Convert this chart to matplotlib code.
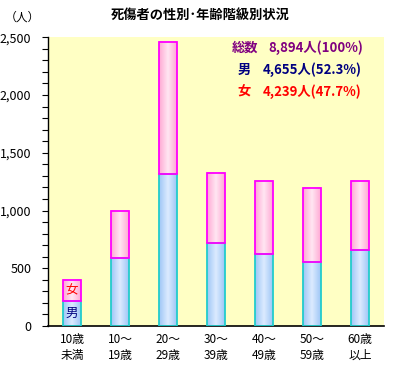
import numpy as np
import matplotlib
matplotlib.use("Agg")
import matplotlib.pyplot as plt
from matplotlib.colors import LinearSegmentedColormap

plt.rcParams['font.family'] = ['Noto Sans CJK JP', 'DejaVu Sans']

# data
categories = ["10歳\n未満", "10～\n19歳", "20～\n29歳", "30～\n39歳", "40～\n49歳", "50～\n59歳", "60歳\n以上"]
male = [214, 585, 1314, 717, 621, 550, 654]
female = [188, 412, 1149, 609, 636, 644, 601]
summary_labels = ["総数", "男", "女"]
summary_values = ["8,894人(100%)", "4,655人(52.3%)", "4,239人(47.7%)"]
summary_colors = ["#800080", "#000080", "#FF0000"]

fig = plt.figure(figsize=(4.04, 3.65), dpi=100)
ax = fig.add_axes([48 / 404, 39 / 365, 336 / 404, 288.7 / 365])
ax.set_facecolor("#FFFFC4")

x = np.arange(len(categories))
w = 0.375

male_cmap = LinearSegmentedColormap.from_list("m", ["#9EC6F6", "#DCEBFF", "#9EC6F6"])
female_cmap = LinearSegmentedColormap.from_list("f", ["#FFA8D4", "#FFE6F2", "#FFA8D4"])
grad = np.linspace(0, 1, 64).reshape(1, -1)

for i in range(len(categories)):
    m = male[i]
    f = female[i]
    ax.imshow(grad, cmap=male_cmap, aspect="auto", extent=(x[i] - w / 2, x[i] + w / 2, 0, m), zorder=2)
    ax.imshow(grad, cmap=female_cmap, aspect="auto", extent=(x[i] - w / 2, x[i] + w / 2, m, m + f), zorder=2)

ax.bar(x, male, w, fill=False, edgecolor="#22CCCC", linewidth=1.3, zorder=3)
ax.bar(x, female, w, bottom=male, fill=False, edgecolor="#FF00FF", linewidth=1.3, zorder=3)

ax.text(x[0], male[0] / 2, "男", color="#000080", ha="center", va="center", fontsize=9, zorder=4)
ax.text(x[0], male[0] + female[0] / 2, "女", color="#FF0000", ha="center", va="center", fontsize=9, zorder=4)

ax.set_xlim(-0.5, len(categories) - 0.5)
ax.set_ylim(0, 2500)
ax.set_yticks(range(0, 2501, 500))
ax.set_yticklabels(["0", "500", "1,000", "1,500", "2,000", "2,500"], fontsize=9)
ax.set_yticks(range(0, 2501, 100), minor=True)
ax.tick_params(axis="y", which="both", direction="out", length=4, width=0.8, pad=8)
ax.set_xticks(x)
ax.set_xticklabels(categories, fontsize=8.5, linespacing=1.3)
ax.tick_params(axis="x", length=0, pad=5)

for s in ["top", "right"]:
    ax.spines[s].set_visible(False)
ax.spines["left"].set_linewidth(1.0)
ax.spines["bottom"].set_linewidth(1.2)

label_x = [245, 244, 244]
value_x = [268, 263, 263]
for k in range(3):
    yy = 1 - (48 + 22 * k) / 365
    fig.text(label_x[k] / 404, yy, summary_labels[k], color=summary_colors[k], fontsize=9.5,
             fontweight="bold", va="center", ha="center")
    fig.text(value_x[k] / 404, yy, summary_values[k], color=summary_colors[k], fontsize=9.5,
             fontweight="bold", va="center", ha="left")

fig.text(200 / 404, 1 - 15 / 365, "死傷者の性別･年齢階級別状況", fontsize=9.5,
         fontweight="bold", ha="center", va="center")
fig.text(22 / 404, 1 - 17 / 365, "（人）", fontsize=8.5, ha="center", va="center")

fig.savefig("out.png", dpi=100)
